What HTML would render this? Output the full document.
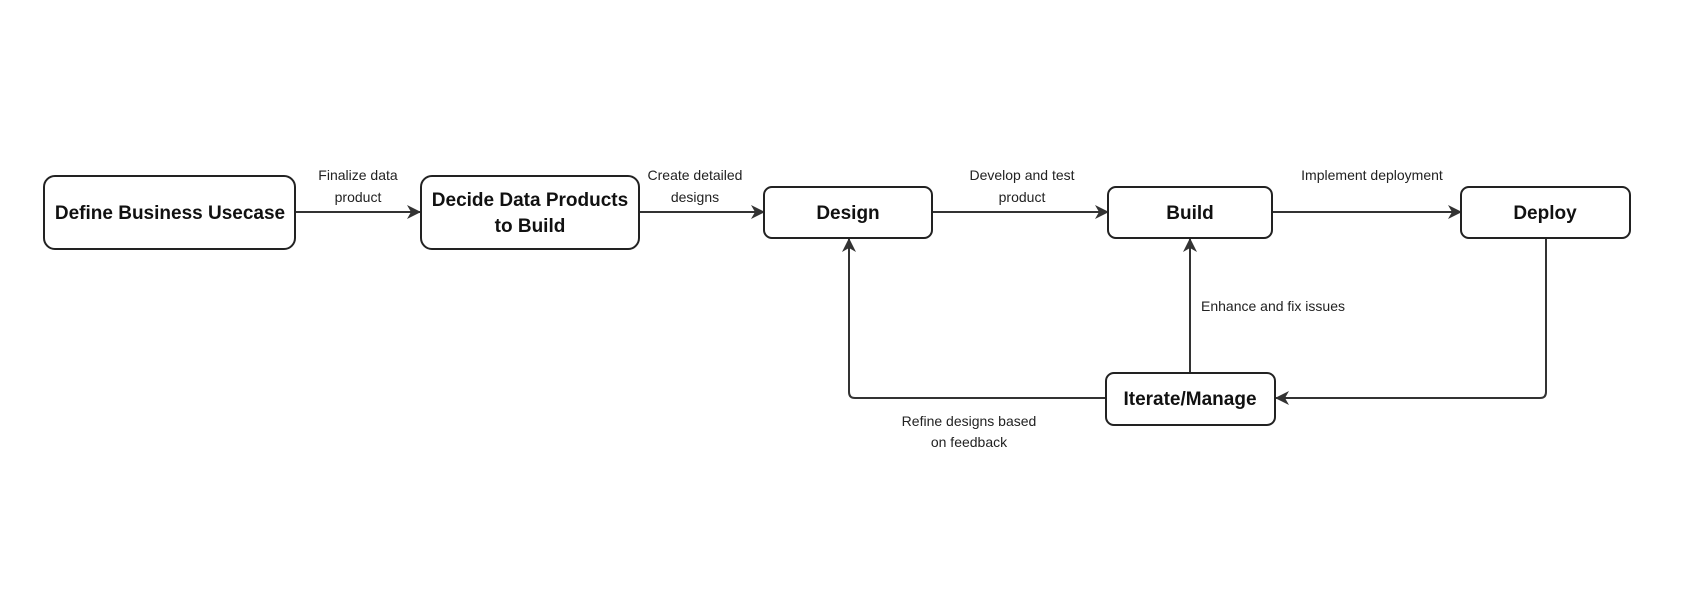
<!DOCTYPE html>
<html><head><meta charset="utf-8"><style>
html,body{margin:0;padding:0;background:#fff;}
svg{display:block;}
.n{font-family:"Liberation Sans","DejaVu Sans",sans-serif;font-weight:bold;font-size:19px;fill:#111;text-anchor:middle;}
.l{font-family:"Liberation Sans","DejaVu Sans",sans-serif;font-size:14px;fill:#222;text-anchor:middle;}
</style></head><body>
<svg width="1689" height="591" viewBox="0 0 1689 591" xmlns="http://www.w3.org/2000/svg">
<defs><marker id="a" markerWidth="14" markerHeight="14" refX="13" refY="7" orient="auto" markerUnits="userSpaceOnUse"><path d="M0,0 L14,7 L0,14 L4,7 Z" fill="#333"/></marker></defs>
<g stroke="#333" stroke-width="2" fill="none">
<line x1="296" y1="212" x2="420" y2="212" marker-end="url(#a)"/>
<line x1="640" y1="212" x2="764" y2="212" marker-end="url(#a)"/>
<line x1="933" y1="212" x2="1108" y2="212" marker-end="url(#a)"/>
<line x1="1273" y1="212" x2="1461" y2="212" marker-end="url(#a)"/>
<path d="M1546 238 V392 Q1546 398 1540 398 H1276" marker-end="url(#a)"/>
<line x1="1190" y1="373" x2="1190" y2="239" marker-end="url(#a)"/>
<path d="M1106 398 H855 Q849 398 849 392 V239" marker-end="url(#a)"/>
</g>
<g stroke="#222" stroke-width="2" fill="#fff">
<rect x="44" y="176" width="251" height="73" rx="11"/>
<rect x="421" y="176" width="218" height="73" rx="11"/>
<rect x="764" y="187" width="168" height="51" rx="8"/>
<rect x="1108" y="187" width="164" height="51" rx="8"/>
<rect x="1461" y="187" width="169" height="51" rx="8"/>
<rect x="1106" y="373" width="169" height="52" rx="8"/>
</g>
<text class="n" x="170" y="219">Define Business Usecase</text>
<text class="n" x="530" y="206">Decide Data Products</text>
<text class="n" x="530" y="232">to Build</text>
<text class="n" x="848" y="219">Design</text>
<text class="n" x="1190" y="219">Build</text>
<text class="n" x="1545" y="219">Deploy</text>
<text class="n" x="1190" y="405">Iterate/Manage</text>
<text class="l" x="358" y="180">Finalize data</text>
<text class="l" x="358" y="202">product</text>
<text class="l" x="695" y="180">Create detailed</text>
<text class="l" x="695" y="202">designs</text>
<text class="l" x="1022" y="180">Develop and test</text>
<text class="l" x="1022" y="202">product</text>
<text class="l" x="1372" y="180">Implement deployment</text>
<text class="l" x="1201" y="311" style="text-anchor:start">Enhance and fix issues</text>
<text class="l" x="969" y="426">Refine designs based</text>
<text class="l" x="969" y="447">on feedback</text>
</svg>
</body></html>
